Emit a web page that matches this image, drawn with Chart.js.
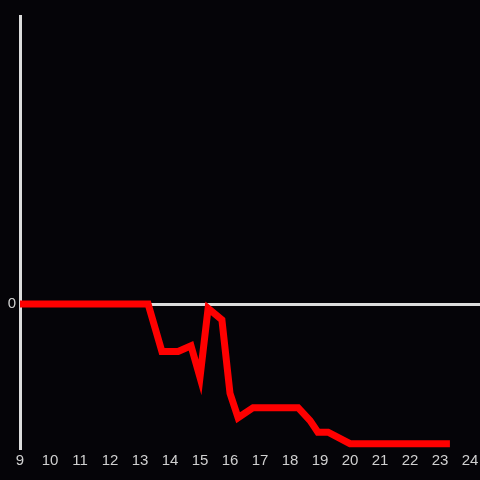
<!DOCTYPE html>
<html>
<head>
<meta charset="utf-8">
<script src="https://cdn.jsdelivr.net/npm/chart.js@4"></script>
<style>
  html, body { margin: 0; padding: 0; background: #050408; }
  #wrap { width: 480px; height: 480px; }
</style>
</head>
<body>
<div id="wrap"><canvas id="c"></canvas></div>
<script>
// x positions (hours) and values
const times  = [9, 13.27, 13.73, 14.27, 14.7, 15.0, 15.27, 15.73, 16.0, 16.27, 16.77, 18.27, 18.67, 18.93, 19.27, 20.0, 23.33];
const values = [0, 0, -0.33, -0.33, -0.29, -0.51, -0.03, -0.11, -0.62, -0.79, -0.72, -0.72, -0.81, -0.89, -0.89, -0.97, -0.97];
const xTicks = [9, 10, 11, 12, 13, 14, 15, 16, 17, 18, 19, 20, 21, 22, 23, 24];
const yTicks = [0];

const axisColor = '#dcdcdc';
const tickFont = { family: 'Liberation Sans', size: 15 };

new Chart(document.getElementById('c'), {
  type: 'line',
  data: {
    datasets: [{
      data: times.map((t, i) => ({ x: t, y: values[i] })),
      borderColor: '#ff0000',
      borderWidth: 7,
      pointRadius: 0,
      tension: 0,
      fill: false
    }]
  },
  options: {
    responsive: true,
    maintainAspectRatio: false,
    animation: false,
    layout: { padding: { top: 16, right: 0, left: 0, bottom: 0 } },
    plugins: { legend: { display: false }, tooltip: { enabled: false } },
    scales: {
      x: {
        type: 'linear', min: 9, max: 24.333,
        afterBuildTicks: s => { s.ticks = xTicks.map(v => ({ value: v })); },
        afterFit: s => { s.height = 32; s.paddingLeft = 0; s.paddingRight = 0; },
        border: { display: false },
        grid: { display: false, drawTicks: false },
        ticks: { color: '#d0d0d0', font: tickFont, padding: 4, maxRotation: 0, autoSkip: false }
      },
      y: {
        min: -1, max: 2,
        afterBuildTicks: s => { s.ticks = yTicks.map(v => ({ value: v })); },
        afterFit: s => { s.width = 20; s.paddingTop = 0; s.paddingBottom = 0; },
        border: { display: true, color: axisColor, width: 3 },
        grid: { color: ctx => ctx.tick && ctx.tick.value === 0 ? axisColor : 'transparent', lineWidth: 3, drawTicks: false },
        ticks: { color: '#d0d0d0', font: tickFont, padding: 4 }
      }
    }
  }
});
</script>
</body>
</html>
